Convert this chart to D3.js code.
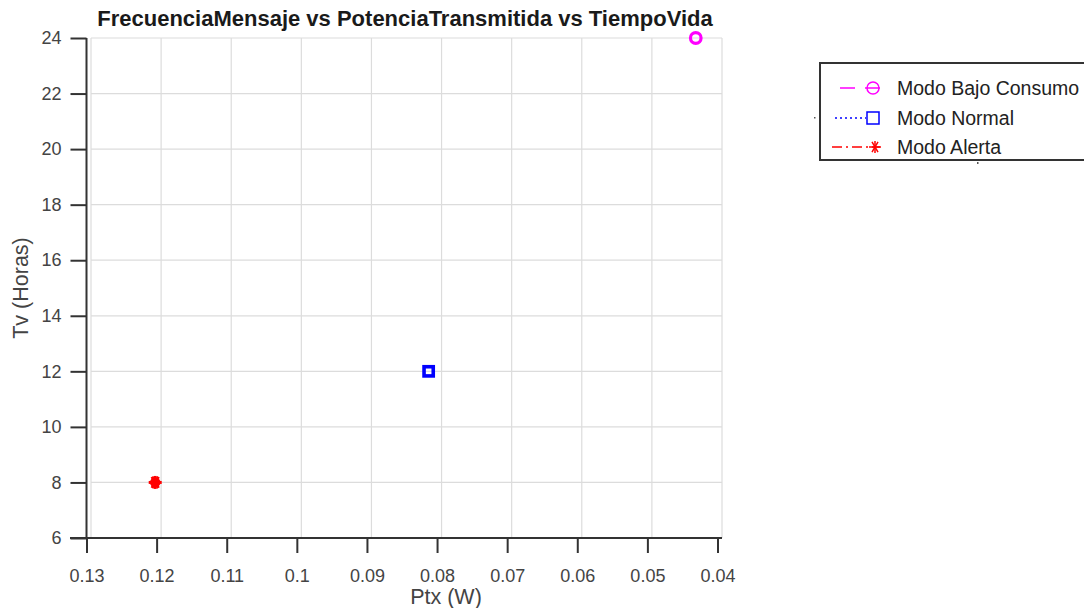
<!DOCTYPE html>
<html>
<head>
<meta charset="utf-8">
<script src="https://cdn.jsdelivr.net/npm/d3@7"></script>
<style>
  html, body { margin: 0; padding: 0; background: #fff; }
  svg { display: block; font-family: "Liberation Sans", Arial, sans-serif; }
</style>
</head>
<body>
<svg id="chart" width="1084" height="608"></svg>
<script>
// Operating modes and their transmitted power vs. lifetime
const modes = ["Modo Bajo Consumo", "Modo Normal", "Modo Alerta"];
const ptx = [0.0431, 0.0812, 0.1202];      // W
const tv = [24, 12, 8];                    // hours
const modeColors = ["#ff00ff", "#0000ff", "#ff0000"];
const modeMarkers = ["circle", "square", "asterisk"];
const modeDash = ["15,10", "2,3", "10,4,2,4"];

const xTicks = [0.13, 0.12, 0.11, 0.1, 0.09, 0.08, 0.07, 0.06, 0.05, 0.04];
const yTicks = [6, 8, 10, 12, 14, 16, 18, 20, 22, 24];

const svg = d3.select("#chart");

const x = d3.scaleLinear().domain([0.13, 0.04]).range([86.5, 717.5]);
const y = d3.scaleLinear().domain([6, 24]).range([538, 38]);
const gridShift = 4.5;   // vertical grid lines sit a little right of the ticks

// grid
const grid = svg.append("g").attr("stroke", "#dcdcdc").attr("stroke-width", 1.2);
grid.selectAll("line.v").data(xTicks).join("line")
  .attr("x1", d => x(d) + gridShift).attr("x2", d => x(d) + gridShift)
  .attr("y1", y(24)).attr("y2", y(6));
grid.selectAll("line.h").data(yTicks).join("line")
  .attr("x1", x(0.13) + gridShift).attr("x2", x(0.04) + gridShift)
  .attr("y1", d => y(d)).attr("y2", d => y(d));

// axes
const xAxis = d3.axisBottom(x).tickValues(xTicks).tickSize(15).tickSizeOuter(0)
  .tickFormat(d => d3.format("")(+d.toFixed(2)));
const gx = svg.append("g").attr("transform", `translate(0,${y(6)})`).call(xAxis);
gx.select(".domain").remove();
gx.append("line").attr("x1", 70).attr("x2", x(0.04) + gridShift)
  .attr("stroke", "#333").attr("stroke-width", 2);
gx.selectAll(".tick line").attr("stroke", "#333").attr("stroke-width", 2);
gx.selectAll(".tick text").attr("fill", "#444").attr("font-size", 18)
  .attr("font-family", "Liberation Sans, Arial, sans-serif").attr("dy", "1.45em");

const yAxis = d3.axisLeft(y).tickValues(yTicks).tickSize(16).tickSizeOuter(0);
const gy = svg.append("g").attr("transform", `translate(${x(0.13)},0)`).call(yAxis);
gy.select(".domain").remove();
gy.append("line").attr("y1", y(24)).attr("y2", y(6))
  .attr("stroke", "#333").attr("stroke-width", 2);
gy.selectAll(".tick line").attr("stroke", "#333").attr("stroke-width", 2);
gy.selectAll(".tick text").attr("fill", "#444").attr("font-size", 18)
  .attr("font-family", "Liberation Sans, Arial, sans-serif").attr("x", -25);

// titles
svg.append("text").attr("x", 405).attr("y", 26).attr("text-anchor", "middle")
  .attr("font-size", 22).attr("font-weight", "bold").attr("fill", "#1a1a1a")
  .text("FrecuenciaMensaje vs PotenciaTransmitida vs TiempoVida");
svg.append("text").attr("x", 446).attr("y", 604).attr("text-anchor", "middle")
  .attr("font-size", 21.5).attr("fill", "#444").text("Ptx (W)");
svg.append("text").attr("transform", "translate(28,288) rotate(-90)")
  .attr("text-anchor", "middle").attr("font-size", 21.5).attr("fill", "#444")
  .text("Tv (Horas)");

// marker shapes
function drawMarker(g, kind, color, size, sw, filled) {
  if (kind === "circle") {
    g.append("circle").attr("r", size).attr("fill", "none")
      .attr("stroke", color).attr("stroke-width", sw);
  } else if (kind === "square") {
    g.append("rect").attr("x", -size).attr("y", -size)
      .attr("width", 2 * size).attr("height", 2 * size)
      .attr("fill", "none").attr("stroke", color).attr("stroke-width", sw);
  } else {
    if (filled) g.append("circle").attr("r", size * 0.8).attr("fill", color);
    const a = [0, 60, 120].map(t => t * Math.PI / 180);
    a.forEach(t => {
      g.append("line")
        .attr("x1", -size * Math.cos(t)).attr("y1", -size * Math.sin(t))
        .attr("x2", size * Math.cos(t)).attr("y2", size * Math.sin(t))
        .attr("stroke", color).attr("stroke-width", sw);
    });
    g.append("line").attr("x1", 0).attr("x2", 0).attr("y1", -size).attr("y2", size)
      .attr("stroke", color).attr("stroke-width", sw);
  }
}

// data points
modes.forEach((m, i) => {
  const g = svg.append("g").attr("transform", `translate(${x(ptx[i])},${y(tv[i])})`);
  if (modeMarkers[i] === "circle") drawMarker(g, "circle", modeColors[i], 5.3, 3.2);
  else if (modeMarkers[i] === "square") drawMarker(g, "square", modeColors[i], 4.6, 3.6);
  else drawMarker(g, "asterisk", modeColors[i], 6.5, 3, true);
});

// legend
const lg = svg.append("g");
lg.append("path").attr("d", "M1084,63 H820 V160 H1084")
  .attr("fill", "none").attr("stroke", "#333").attr("stroke-width", 2);
lg.append("rect").attr("x", 814).attr("y", 117).attr("width", 1.5).attr("height", 1.5).attr("fill", "#555");
lg.append("rect").attr("x", 977).attr("y", 162).attr("width", 1.5).attr("height", 2).attr("fill", "#555");
const rowsY = [88, 118, 147];
const lineSpan = [[840, 880], [835, 866], [832, 880]];
modes.forEach((m, i) => {
  const ry = rowsY[i];
  lg.append("line").attr("x1", lineSpan[i][0]).attr("x2", lineSpan[i][1])
    .attr("y1", ry).attr("y2", ry).attr("stroke", modeColors[i]).attr("stroke-width", 1.5)
    .attr("stroke-dasharray", modeDash[i]);
  const g = lg.append("g").attr("transform", `translate(${i === 2 ? 875 : 873},${ry})`);
  if (modeMarkers[i] === "circle") drawMarker(g, "circle", modeColors[i], 6, 1.5);
  else if (modeMarkers[i] === "square") drawMarker(g, "square", modeColors[i], 6, 1.5);
  else drawMarker(g, "asterisk", modeColors[i], 6, 1.5, false);
  lg.append("text").attr("x", 897).attr("y", ry).attr("dy", "0.36em")
    .attr("font-size", 19.5).attr("fill", "#222").text(m);
});
</script>
</body>
</html>
